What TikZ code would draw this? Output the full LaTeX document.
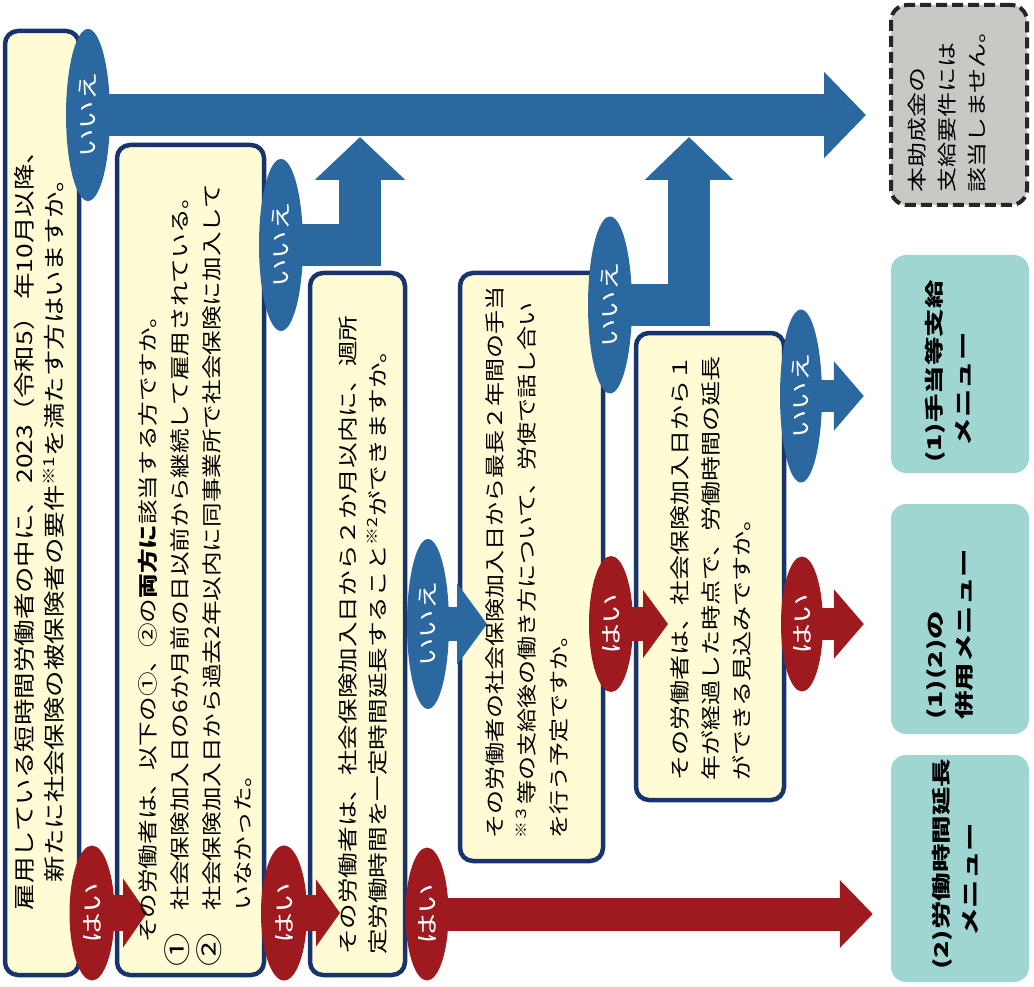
\documentclass[tikz,border=0pt]{standalone}
\usepackage{fontspec}
\setmainfont{Noto Sans CJK JP}
\usepackage{graphicx}
\usetikzlibrary{shapes.geometric,arrows.meta}
\definecolor{cream}{RGB}{255,251,212}
\definecolor{navy}{RGB}{24,52,108}
\definecolor{ablue}{RGB}{44,104,160}
\definecolor{ared}{RGB}{158,26,30}
\definecolor{gfill}{RGB}{200,200,197}
\definecolor{mteal}{RGB}{160,214,209}
\pgfdeclarelayer{bg}
\pgfdeclarelayer{arr}
\pgfsetlayers{bg,arr,main}
\newcommand{\myCircNum}[1]{{\fontsize{27}{31}\selectfont #1}}
\begin{document}
\begin{tikzpicture}[x=1pt,y=-1pt,
  qbox/.style={draw=navy, line width=4.5pt, fill=cream, rounded corners=13pt, inner sep=0pt},
  ngbox/.style={draw=black!85, line width=4pt, dash pattern=on 11pt off 5pt, fill=gfill, rounded corners=16pt, inner sep=0pt},
  mbox/.style={fill=mteal, rounded corners=15pt, inner sep=0pt},
  ell/.style={ellipse, rotate=90, inner sep=0pt, text=white},
  noell/.style={ell, fill=ablue, font=\fontsize{21}{24}\selectfont},
  yesell/.style={ell, fill=ared, font=\fontsize{22}{24}\selectfont},
  txt/.style={rotate=90, inner sep=0pt, text=black, anchor=west},
  arrB/.style n args={3}{draw=ablue, line width=#1, -{Triangle[length=#2,width=#3]}},
  arrR/.style n args={3}{draw=ared, line width=#1, -{Triangle[length=#2,width=#3]}}
]
\begin{pgfonlayer}{bg}
\fill[white] (0,0) rectangle (1034,987);
\useasboundingbox (0,0) rectangle (1034,987);
% question boxes
\node[qbox, minimum width=74pt, minimum height=944pt] (b1) at (42,503) {};
\node[qbox, minimum width=147pt, minimum height=830pt] (b2) at (190.5,560) {};
\node[qbox, minimum width=95pt, minimum height=702pt] (b3) at (357.5,624) {};
\node[qbox, minimum width=143pt, minimum height=588pt] (b4) at (531.5,567) {};
\node[qbox, minimum width=148pt, minimum height=467pt] (b5) at (710,566.5) {};
% result boxes
\node[ngbox, minimum width=136pt, minimum height=200pt] (ng) at (959,105) {};
\node[mbox, minimum width=138pt, minimum height=218pt] (m1) at (960,364) {};
\node[mbox, minimum width=138pt, minimum height=230pt] (m2) at (960,619) {};
\node[mbox, minimum width=138pt, minimum height=227pt] (m3) at (960,868.5) {};
\end{pgfonlayer}

% yes / no ellipses
\node[noell, minimum width=172pt, minimum height=44pt] (n1) at (88,115) {\scalebox{1.35}[1]{いいえ}};
\node[noell, minimum width=172pt, minimum height=44pt] (n2) at (281,245) {\scalebox{1.35}[1]{いいえ}};
\node[noell, minimum width=170pt, minimum height=42pt] (n3) at (428,624) {\scalebox{1.35}[1]{いいえ}};
\node[noell, minimum width=177pt, minimum height=44pt] (n4) at (610,305) {\scalebox{1.35}[1]{いいえ}};
\node[noell, minimum width=173pt, minimum height=42pt] (n5) at (801,396) {\scalebox{1.35}[1]{いいえ}};
\node[yesell, minimum width=135pt, minimum height=45pt] (y1) at (92,913) {\scalebox{1.4}[1]{はい}};
\node[yesell, minimum width=135pt, minimum height=46pt] (y2) at (284,913) {\scalebox{1.4}[1]{はい}};
\node[yesell, minimum width=133pt, minimum height=43pt] (y3) at (427,914) {\scalebox{1.4}[1]{はい}};
\node[yesell, minimum width=136pt, minimum height=44pt] (y4) at (611,624) {\scalebox{1.4}[1]{はい}};
\node[yesell, minimum width=135pt, minimum height=42pt] (y5) at (802,624) {\scalebox{1.4}[1]{はい}};

% texts
\node[txt, anchor=center, font=\fontsize{21.5}{30}\selectfont] (t1) at (41,524)
  {\scalebox{1.23}[1]{\begin{tabular}{@{}c@{}}雇用している短時間労働者の中に、\hspace{4pt}2023（令和5）\hspace{4pt}年10月以降、\\新たに社会保険の被保険者の要件\textsuperscript{※1}を満たす方はいますか。\end{tabular}}};
\node[txt, font=\fontsize{20}{31}\selectfont] (t2) at (197,967)
  {\scalebox{1.23}[1]{\begin{tabular}{@{}l@{}}\hspace*{19.5pt}その労働者は、以下の①、②の\textbf{両方に}該当する方ですか。\\\makebox[46pt][l]{\myCircNum{①}}社会保険加入日の6か月前の日以前から継続して雇用されている。\\\makebox[46pt][l]{\myCircNum{②}}社会保険加入日から過去2年以内に同事業所で社会保険に加入して\\\hspace*{46pt}いなかった。\end{tabular}}};
\node[txt, font=\fontsize{20}{30}\selectfont] (t3) at (364,955)
  {\scalebox{1.28}[1]{\begin{tabular}{@{}l@{}}その労働者は、社会保険加入日から２か月以内に、週所\\定労働時間を一定時間延長すること\textsuperscript{※2}ができますか。\end{tabular}}};
\node[txt, font=\fontsize{20}{32}\selectfont] (t4) at (528,839)
  {\scalebox{1.2}[1]{\begin{tabular}{@{}l@{}}その労働者の社会保険加入日から最長２年間の手当\\\textsuperscript{※３}等の支給後の働き方について、労使で話し合い\\を行う予定ですか。\end{tabular}}};
\node[txt, font=\fontsize{20}{31}\selectfont] (t5) at (712,781)
  {\scalebox{1.25}[1]{\begin{tabular}{@{}l@{}}その労働者は、社会保険加入日から１\\年が経過した時点で、労働時間の延長\\ができる見込みですか。\end{tabular}}};
\node[txt, font=\fontsize{19.5}{30}\selectfont] (tng) at (948,193)
  {\scalebox{1.28}[1]{\begin{tabular}{@{}l@{}}本助成金の\\支給要件には\\該当しません。\end{tabular}}};
\node[txt, font=\fontsize{19}{29}\selectfont\bfseries] (tm1) at (950,463)
  {\scalebox{1.5}[1]{\begin{tabular}{@{}l@{}}(1)手当等支給\\\hspace*{11pt}メニュー\end{tabular}}};
\node[txt, font=\fontsize{19}{29}\selectfont\bfseries] (tm2) at (951,720)
  {\scalebox{1.5}[1]{\begin{tabular}{@{}l@{}}(1)(2)の\\併用メニュー\end{tabular}}};
\node[txt, font=\fontsize{19}{29}\selectfont\bfseries] (tm3) at (957,970)
  {\scalebox{1.5}[1]{\begin{tabular}{@{}l@{}}(2)労働時間延長\\\hspace*{22pt}メニュー\end{tabular}}};

% arrow end points
\coordinate (cB) at (360,137);
\coordinate (cD) at (689,137);
\coordinate (cC) at (487,624);
\coordinate (cF) at (147,913);
\coordinate (cG) at (340,913);
\coordinate (cI) at (668,624);

\begin{pgfonlayer}{arr}
\draw[arrB={42pt}{42pt}{84pt}, shorten >=23pt] (n1.center) -- (n1.center -| ng.west);
\draw[arrB={42pt}{43pt}{88pt}] (n2.center) -| (cB);
\draw[arrB={42pt}{43pt}{86pt}] (n4.center) -| (cD);
\draw[arrB={34pt}{30pt}{80pt}] (n3.center) -- (cC);
\draw[arrB={32pt}{30pt}{68pt}, shorten >=27pt] (n5.center) -- (n5.center -| m1.west);
\draw[arrR={36pt}{24pt}{68pt}] (y1.center) -- (cF);
\draw[arrR={36pt}{24pt}{66pt}] (y2.center) -- (cG);
\draw[arrR={33pt}{33pt}{66pt}, shorten >=18pt] (y3.center) -- (y3.center -| m3.west);
\draw[arrR={34pt}{25pt}{67pt}] (y4.center) -- (cI);
\draw[arrR={32pt}{30pt}{68pt}, shorten >=27pt] (y5.center) -- (y5.center -| m2.west);
\end{pgfonlayer}
\end{tikzpicture}
\end{document}
